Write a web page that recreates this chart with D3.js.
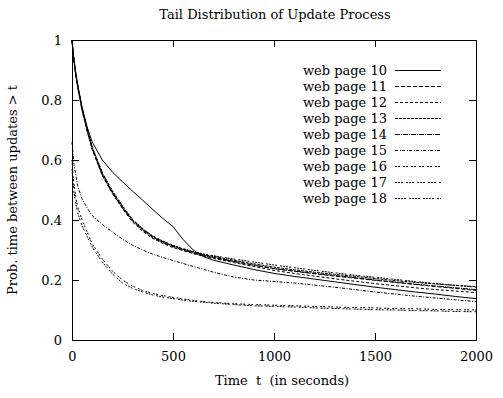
<!DOCTYPE html>
<html>
<head>
<meta charset="utf-8">
<script src="https://cdn.jsdelivr.net/npm/d3@7"></script>
<style>
  body { margin: 0; background: #fff; }
  svg text { fill: #000; }
</style>
</head>
<body>
<script>
// chart data
var times = [0, 5, 10, 20, 30, 50, 75, 100, 150, 200, 250, 300, 350, 400, 450, 500,
             550, 600, 650, 700, 800, 900, 1000, 1100, 1200, 1300, 1400, 1500,
             1600, 1700, 1800, 1900, 2000];

var page10 = [1, 0.965, 0.935, 0.885, 0.845, 0.775, 0.71, 0.66, 0.6, 0.56, 0.527, 0.496, 0.466, 0.435, 0.405, 0.378,
              0.335, 0.3, 0.278, 0.266, 0.25, 0.235, 0.222, 0.212, 0.203, 0.194, 0.185, 0.176,
              0.168, 0.16, 0.153, 0.145, 0.138];
var page11 = [1, 0.96, 0.93, 0.88, 0.84, 0.77, 0.7, 0.64, 0.552, 0.492, 0.442, 0.398, 0.368, 0.343, 0.327, 0.313,
              0.302, 0.291, 0.283, 0.276, 0.262, 0.25, 0.238, 0.229, 0.221, 0.213, 0.206, 0.199,
              0.192, 0.185, 0.178, 0.172, 0.165];
var page12 = [1, 0.955, 0.925, 0.875, 0.835, 0.765, 0.695, 0.635, 0.548, 0.488, 0.438, 0.393, 0.362, 0.338, 0.322, 0.308,
              0.298, 0.288, 0.279, 0.272, 0.258, 0.245, 0.232, 0.222, 0.213, 0.204, 0.196, 0.188,
              0.181, 0.174, 0.168, 0.163, 0.158];
var page13 = [1, 0.96, 0.93, 0.88, 0.84, 0.772, 0.702, 0.642, 0.556, 0.495, 0.445, 0.4, 0.37, 0.345, 0.328, 0.314,
              0.303, 0.293, 0.285, 0.279, 0.266, 0.254, 0.243, 0.234, 0.226, 0.219, 0.212, 0.205,
              0.198, 0.192, 0.187, 0.182, 0.178];
var page14 = [1, 0.958, 0.928, 0.878, 0.838, 0.768, 0.698, 0.638, 0.55, 0.49, 0.44, 0.396, 0.366, 0.341, 0.325, 0.311,
              0.3, 0.29, 0.282, 0.275, 0.262, 0.249, 0.238, 0.23, 0.222, 0.215, 0.208, 0.2,
              0.193, 0.186, 0.18, 0.174, 0.168];
var page15 = [0.66, 0.62, 0.585, 0.545, 0.51, 0.47, 0.44, 0.415, 0.385, 0.36, 0.336, 0.316, 0.3, 0.286, 0.275, 0.265,
              0.255, 0.245, 0.236, 0.226, 0.21, 0.2, 0.195, 0.19, 0.183, 0.176, 0.168, 0.16,
              0.153, 0.146, 0.14, 0.134, 0.128];
var page16 = [0.6, 0.55, 0.52, 0.47, 0.44, 0.4, 0.36, 0.32, 0.27, 0.23, 0.2, 0.18, 0.165, 0.155, 0.148, 0.142,
              0.137, 0.132, 0.128, 0.125, 0.121, 0.118, 0.116, 0.114, 0.112, 0.11, 0.108, 0.107,
              0.105, 0.104, 0.102, 0.101, 0.1];
var page17 = [0.57, 0.52, 0.49, 0.45, 0.42, 0.38, 0.345, 0.31, 0.26, 0.22, 0.19, 0.172, 0.16, 0.15, 0.143, 0.138,
              0.133, 0.129, 0.126, 0.123, 0.118, 0.114, 0.112, 0.11, 0.107, 0.105, 0.103, 0.101,
              0.1, 0.098, 0.097, 0.095, 0.094];
var page18 = [1, 0.962, 0.932, 0.882, 0.842, 0.774, 0.704, 0.644, 0.558, 0.498, 0.448, 0.402, 0.372, 0.347, 0.33, 0.316,
              0.305, 0.295, 0.287, 0.281, 0.27, 0.26, 0.25, 0.241, 0.232, 0.224, 0.216, 0.209,
              0.202, 0.195, 0.188, 0.182, 0.176];

var seriesNames = ["web page 10", "web page 11", "web page 12", "web page 13", "web page 14",
                   "web page 15", "web page 16", "web page 17", "web page 18"];
var seriesValues = [page10, page11, page12, page13, page14, page15, page16, page17, page18];
var xTicks = [0, 500, 1000, 1500, 2000];
var yTicks = [0, 0.2, 0.4, 0.6, 0.8, 1];

// dash style per series (gnuplot look)
var dashes = ["none", "4,2", "3,2", "3,1", "5,1,1,1", "3,1.5,1,1.5", "2,1,2,3", "2,1,2,1,2,3", "2,1,2,1,2,1,2,3"];

var serif = "DejaVu Serif";
var fontSize = 13;

//set up svg
var margin = {top: 40, right: 27, bottom: 58, left: 72};
var width = 404;
var height = 300;

var svg = d3.select("body").append("svg")
    .attr("width", 503)
    .attr("height", 398)
  .append("g")
    .attr("transform", "translate(" + margin.left + "," + margin.top + ")");

var xChart = d3.scaleLinear().domain([0, 2000]).range([0, width]);
var yChart = d3.scaleLinear().domain([0, 1]).range([height, 0]);

// ticks point inwards on all four sides
function styleAxis(g) {
  g.attr("font-family", serif).attr("font-size", fontSize);
  g.select(".domain").remove();
  g.selectAll(".tick line").attr("stroke", "#000").attr("shape-rendering", "crispEdges");
  g.selectAll(".tick text").attr("fill", "#000");
}

svg.append("g")
    .attr("transform", "translate(0," + height + ")")
    .call(d3.axisBottom(xChart).tickValues(xTicks).tickSize(-7).tickPadding(12).tickFormat(d3.format("d")))
    .call(styleAxis);

svg.append("g")
    .call(d3.axisTop(xChart).tickValues(xTicks).tickSize(-7).tickFormat(""))
    .call(styleAxis);

svg.append("g")
    .call(d3.axisLeft(yChart).tickValues(yTicks).tickSize(-7).tickPadding(10).tickFormat(function(d) { return d; }))
    .call(styleAxis);

svg.append("g")
    .attr("transform", "translate(" + width + ",0)")
    .call(d3.axisRight(yChart).tickValues(yTicks).tickSize(-7).tickFormat(""))
    .call(styleAxis);

// frame
svg.append("rect")
    .attr("x", 0).attr("y", 0)
    .attr("width", width).attr("height", height)
    .attr("fill", "none")
    .attr("stroke", "#000")
    .attr("shape-rendering", "crispEdges");

// curves
var line = d3.line()
    .x(function(d) { return xChart(d[0]); })
    .y(function(d) { return yChart(d[1]); });

seriesValues.forEach(function(vals, i) {
  svg.append("path")
    .datum(times.map(function(t, j) { return [t, vals[j]]; }))
    .attr("d", line)
    .attr("fill", "none")
    .attr("stroke", "#000")
    .attr("stroke-width", 1)
    .attr("stroke-dasharray", dashes[i]);
});

// legend
var legend = svg.append("g");
seriesNames.forEach(function(name, i) {
  var ly = 30 + i * 16;
  legend.append("text")
    .attr("x", 315)
    .attr("y", ly + 5)
    .attr("text-anchor", "end")
    .attr("font-family", serif)
    .attr("font-size", fontSize)
    .text(name);
  legend.append("line")
    .attr("x1", 323).attr("x2", 369)
    .attr("y1", ly).attr("y2", ly)
    .attr("stroke", "#000")
    .attr("stroke-dasharray", dashes[i])
    .attr("shape-rendering", "crispEdges");
});

//add labels
svg.append("text")
    .attr("x", 203)
    .attr("y", -21)
    .attr("text-anchor", "middle")
    .attr("font-family", serif)
    .attr("font-size", fontSize)
    .text("Tail Distribution of Update Process");

svg.append("text")
    .attr("x", 210)
    .attr("y", height + 45)
    .attr("text-anchor", "middle")
    .attr("font-family", serif)
    .attr("font-size", fontSize)
    .style("white-space", "pre")
    .text("Time  t  (in seconds)");

svg.append("text")
    .attr("transform", "translate(-55," + (height / 2) + ") rotate(-90)")
    .attr("text-anchor", "middle")
    .attr("font-family", serif)
    .attr("font-size", fontSize)
    .text("Prob. time between updates > t");
</script>
</body>
</html>
